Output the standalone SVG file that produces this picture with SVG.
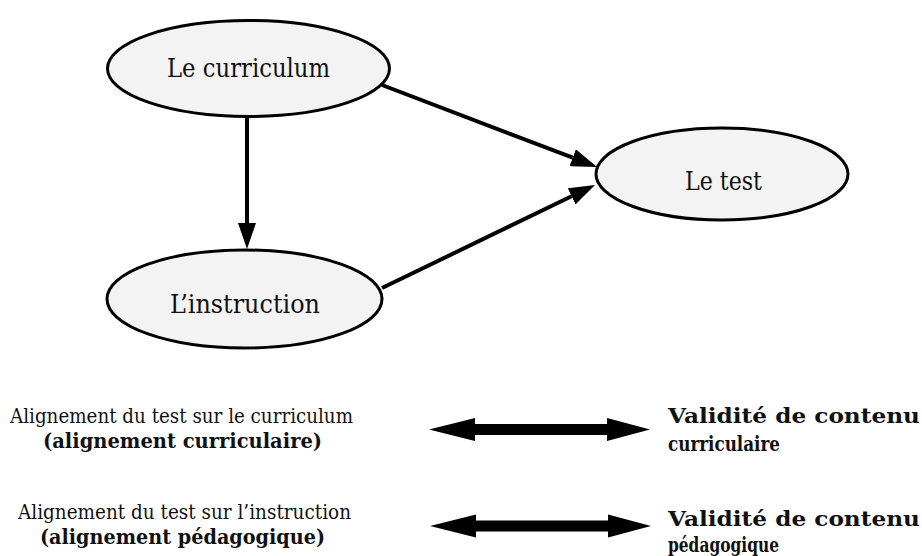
<svg xmlns="http://www.w3.org/2000/svg" xmlns:xlink="http://www.w3.org/1999/xlink" width="922" height="556" viewBox="0 0 922 556">
<style>
.node ellipse{fill:#f3f3f3;stroke:#000;stroke-width:3}
.lbl{font-family:"DejaVu Serif","Liberation Serif",serif;font-size:25.5px;fill:#111}
.txt{font-family:"DejaVu Serif","Liberation Serif",serif;font-size:20px;fill:#111}
.b{font-weight:bold}
.conn line{stroke:#000;stroke-width:4;fill:none}
</style>
<defs>
<marker id="ah" viewBox="0 0 10 10" refX="0" refY="5" markerUnits="strokeWidth" markerWidth="6.5" markerHeight="4.5" orient="auto" preserveAspectRatio="none">
<path d="M0,0 L10,5 L0,10 z" fill="#000"/>
</marker>
<path id="dbl" d="M0,0 L46,-11.5 L46,-5.5 L178,-5.5 L178,-11.5 L221,0 L178,11.5 L178,5.5 L46,5.5 L46,11.5 z" fill="#000"/>
</defs>
<rect width="922" height="556" fill="#fff"/>
<g id="connectors" class="conn">
<line x1="247" y1="117" x2="247" y2="223" marker-end="url(#ah)"/>
<line x1="382" y1="85" x2="572.7" y2="157.7" marker-end="url(#ah)"/>
<line x1="382" y1="288" x2="571.6" y2="196.3" marker-end="url(#ah)"/>
</g>
<g id="n-curriculum" class="node">
<ellipse cx="248.5" cy="68.5" rx="141" ry="48"/>
<text class="lbl" x="248.5" y="77" text-anchor="middle" textLength="163" lengthAdjust="spacingAndGlyphs">Le curriculum</text>
</g>
<g id="n-test" class="node">
<ellipse cx="722" cy="174" rx="126" ry="46"/>
<text class="lbl" x="723.5" y="190" text-anchor="middle" textLength="77" lengthAdjust="spacingAndGlyphs">Le test</text>
</g>
<g id="n-instruction" class="node">
<ellipse cx="244.5" cy="299" rx="137.5" ry="49"/>
<text class="lbl" x="245" y="313" text-anchor="middle" textLength="150" lengthAdjust="spacingAndGlyphs">L’instruction</text>
</g>
<g id="legend">
<text class="txt" x="10" y="423" textLength="343" lengthAdjust="spacingAndGlyphs">Alignement du test sur le curriculum</text>
<text class="txt b" x="43" y="448" textLength="279" lengthAdjust="spacingAndGlyphs">(alignement curriculaire)</text>
<use xlink:href="#dbl" x="429" y="429.5"/>
<text class="txt b" x="668" y="423" textLength="252" lengthAdjust="spacingAndGlyphs">Validité de contenu</text>
<text class="txt b" x="668" y="451" textLength="112" lengthAdjust="spacingAndGlyphs">curriculaire</text>
<text class="txt" x="18" y="519" textLength="333" lengthAdjust="spacingAndGlyphs">Alignement du test sur l’instruction</text>
<text class="txt b" x="40" y="544" textLength="285" lengthAdjust="spacingAndGlyphs">(alignement pédagogique)</text>
<use xlink:href="#dbl" x="430" y="526"/>
<text class="txt b" x="668" y="526" textLength="252" lengthAdjust="spacingAndGlyphs">Validité de contenu</text>
<text class="txt b" x="668" y="552" textLength="111" lengthAdjust="spacingAndGlyphs">pédagogique</text>
</g>
</svg>
